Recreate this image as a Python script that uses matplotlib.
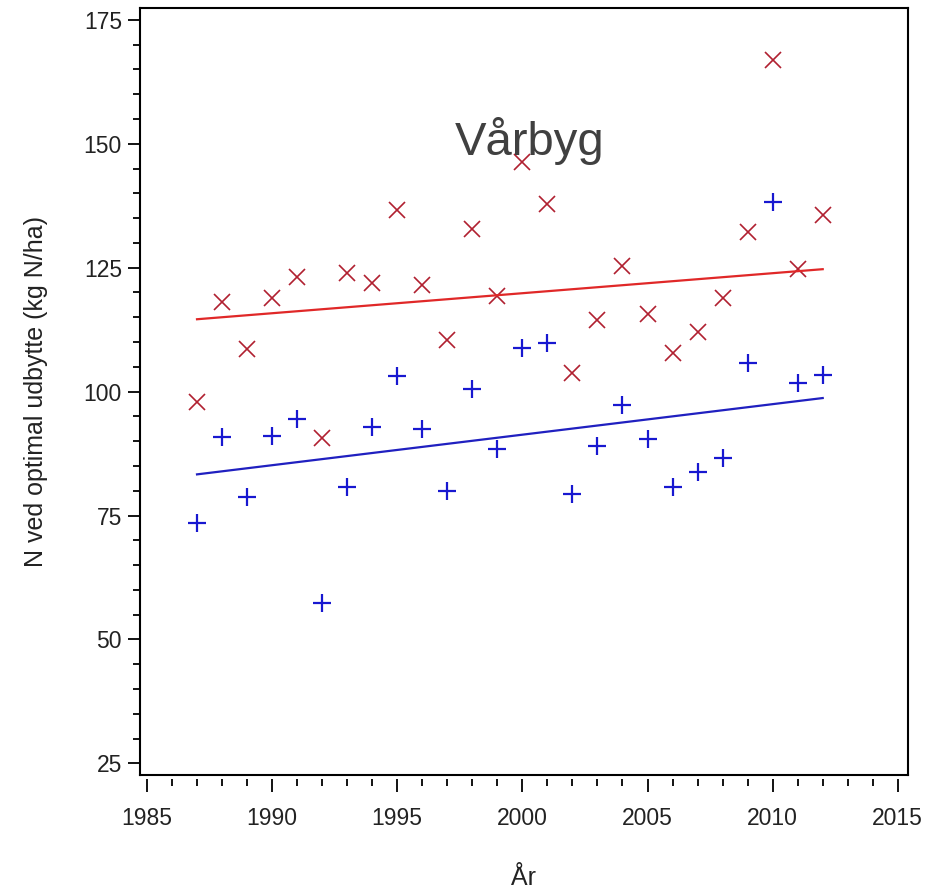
import numpy as np
import matplotlib
matplotlib.use("Agg")
import matplotlib.pyplot as plt
from matplotlib.ticker import MultipleLocator

plt.rcParams['font.family'] = ['Liberation Sans', 'DejaVu Sans']

# data
years = list(range(1987, 2013))
red_vals = [98.0, 118.1, 108.6, 118.9, 123.1, 90.6, 123.9, 121.9, 136.6, 121.5,
            110.4, 132.8, 119.3, 146.4, 137.9, 103.7, 114.4, 125.4, 115.6, 107.8,
            112.0, 118.9, 132.2, 167.0, 124.7, 135.6]
blue_vals = [73.4, 90.8, 78.7, 91.0, 94.4, 57.3, 80.7, 92.8, 103.1, 92.4,
             79.9, 100.5, 88.4, 108.8, 109.9, 79.3, 89.1, 97.2, 90.4, 80.7,
             83.7, 86.6, 105.7, 138.3, 101.7, 103.3]
fit_years = [1987, 2012]
red_fit = [114.6, 124.7]
blue_fit = [83.3, 98.7]

red_mark = '#b02030'
red_line = '#e02828'
blue_mark = '#1818d0'
blue_line = '#2020c0'

fig = plt.figure(figsize=(9.33, 8.89), dpi=100)
ax = fig.add_axes([0.150, 0.128, 0.823, 0.863])

ax.plot(years, red_vals, linestyle='none', marker='x', color=red_mark,
        markersize=12, markeredgewidth=1.2)
ax.plot(years, blue_vals, linestyle='none', marker='+', color=blue_mark,
        markersize=13, markeredgewidth=1.6)
ax.plot(fit_years, red_fit, color=red_line, linewidth=1.6)
ax.plot(fit_years, blue_fit, color=blue_line, linewidth=1.6)

ax.set_xlim(1984.72, 2015.4)
ax.set_ylim(22.6, 177.4)
ax.xaxis.set_major_locator(MultipleLocator(5))
ax.xaxis.set_minor_locator(MultipleLocator(1))
ax.yaxis.set_major_locator(MultipleLocator(25))
ax.yaxis.set_minor_locator(MultipleLocator(5))

# x axis hangs slightly below the frame
ax.spines['bottom'].set_position(('outward', 3))
ax.spines['bottom'].set_visible(False)
ax.plot([0, 1], [0, 0], transform=ax.transAxes, color='black',
        linewidth=1.5, clip_on=False)
for s in ['left', 'right', 'top']:
    ax.spines[s].set_linewidth(1.5)

ax.tick_params(axis='both', which='major', direction='out', length=9,
               width=1.3, labelsize=16.5, colors='black', labelcolor='#222222')
ax.tick_params(axis='both', which='minor', direction='out', length=5,
               width=1.3)
ax.tick_params(axis='y', pad=4)
ax.tick_params(axis='x', pad=11)

ax.set_xlabel('År', fontsize=18, labelpad=26, color='#222222')
ax.set_ylabel('N ved optimal udbytte (kg N/ha)', fontsize=18, labelpad=26,
              color='#222222')

ax.text(2000.3, 150.5, 'Vårbyg', fontsize=34, color='#404040',
        ha='center', va='center')

fig.savefig('out.png', dpi=100)
